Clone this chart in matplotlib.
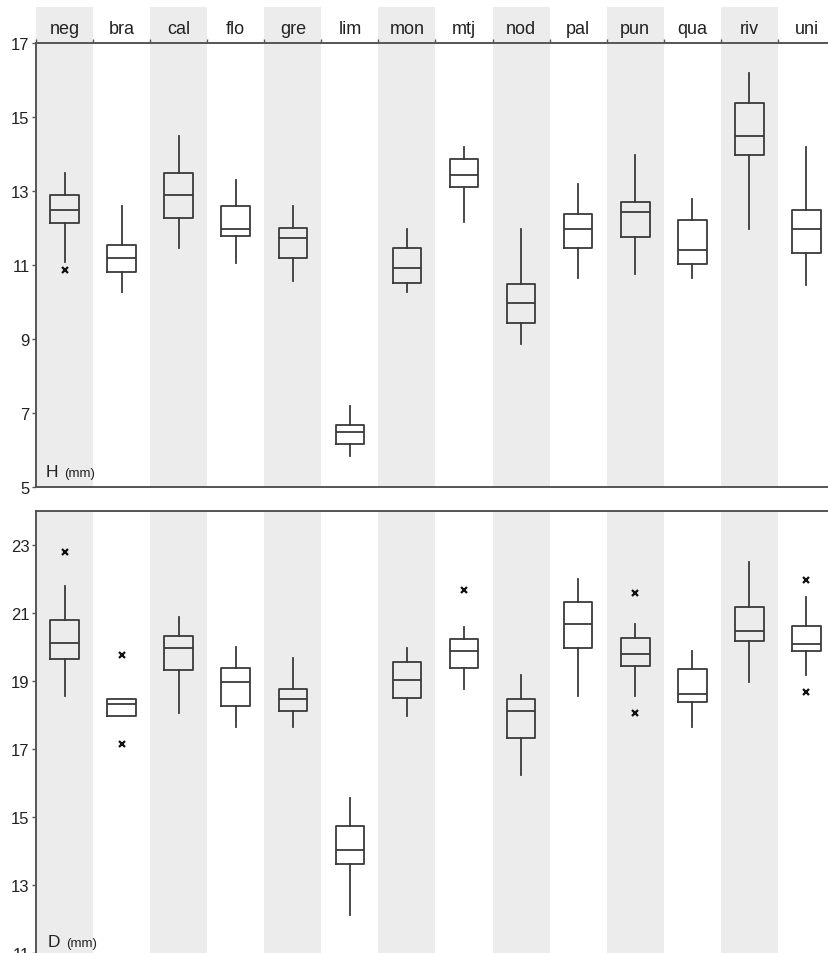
import matplotlib
matplotlib.use("Agg")
import matplotlib.pyplot as plt
import numpy as np

plt.rcParams['font.family'] = ['Liberation Sans', 'DejaVu Sans']

categories = ['neg', 'bra', 'cal', 'flo', 'gre', 'lim', 'mon', 'mtj', 'nod', 'pal', 'pun', 'qua', 'riv', 'uni']

# H (mm)
H_whislo = [11.07, 10.26, 11.46, 11.06, 10.57, 5.85, 10.26, 12.16, 8.86, 10.66, 10.77, 10.66, 11.96, 10.46]
H_q1     = [12.13, 10.82, 12.28, 11.78, 11.19, 6.15, 10.51, 13.10, 9.44, 11.47, 11.75, 11.02, 13.97, 11.32]
H_med    = [12.49, 11.18, 12.88, 11.97, 11.73, 6.48, 10.92, 13.42, 9.97, 11.96, 12.43, 11.41, 14.48, 11.96]
H_q3     = [12.90, 11.53, 13.49, 12.59, 12.00, 6.67, 11.45, 13.86, 10.48, 12.38, 12.70, 12.22, 15.38, 12.48]
H_whishi = [13.49, 12.59, 14.49, 13.30, 12.59, 7.18, 11.98, 14.18, 11.98, 13.18, 13.98, 12.78, 16.19, 14.18]
H_fliers = [[10.87], [], [], [], [], [], [], [], [], [], [], [], [], []]

# D (mm)
D_whislo = [18.56, 17.96, 18.06, 17.66, 17.64, 12.12, 17.96, 18.76, 16.24, 18.57, 18.57, 17.66, 18.96, 19.17]
D_q1     = [19.65, 17.96, 19.31, 18.26, 18.13, 13.63, 18.49, 19.39, 17.32, 19.97, 19.45, 18.38, 20.19, 19.87]
D_med    = [20.13, 18.33, 19.98, 18.96, 18.46, 14.03, 19.02, 19.87, 18.11, 20.69, 19.78, 18.61, 20.48, 20.08]
D_q3     = [20.79, 18.46, 20.32, 19.37, 18.76, 14.74, 19.55, 20.23, 18.47, 21.33, 20.26, 19.35, 21.18, 20.63]
D_whishi = [21.79, 18.46, 20.89, 19.99, 19.69, 15.55, 19.98, 20.58, 19.18, 21.99, 20.69, 19.87, 22.49, 21.48]
D_fliers = [[22.78], [19.77, 17.15], [], [], [], [], [], [21.69], [], [], [21.59, 18.07], [], [], [21.98, 18.67]]

H_ticks = [5, 7, 9, 11, 13, 15, 17]
D_ticks = [11, 13, 15, 17, 19, 21, 23]

W, Hh = 829, 954
fig = plt.figure(figsize=(W / 100, Hh / 100), dpi=100)

left = 36 / W
width = (835 - 36) / W
ax1 = fig.add_axes([left, 1 - 488 / Hh, width, (488 - 44) / Hh])
ax2 = fig.add_axes([left, 1 - 954 / Hh, width, (954 - 512) / Hh])

line_col = '#3a3a3a'
spine_col = '#555555'
stripe_col = '#ececec'
text_col = '#222222'
n = len(categories)
x = np.arange(n)


def make_stats(wlo, q1, med, q3, whi, fl):
    return [dict(whislo=a, q1=b, med=c, q3=d, whishi=e, fliers=f)
            for a, b, c, d, e, f in zip(wlo, q1, med, q3, whi, fl)]


def draw_panel(ax, stats, ylim, ticks, stripe_top):
    ax.set_xlim(-0.5, n - 0.5)
    ax.set_ylim(*ylim)
    for i in range(0, n, 2):
        ax.bar(i, stripe_top - ylim[0], bottom=ylim[0], width=1.0, color=stripe_col,
               edgecolor='none', zorder=0, clip_on=False)
    lp = dict(color=line_col, linewidth=1.3)
    ax.bxp(stats, positions=x, widths=0.5, showcaps=False,
           boxprops=lp, whiskerprops=lp, medianprops=lp,
           flierprops=dict(marker='x', markersize=4, markeredgewidth=1.6,
                           markeredgecolor='#111111', linestyle='none'),
           manage_ticks=False, zorder=3)
    ax.set_yticks(ticks)
    ax.set_yticklabels([str(t) for t in ticks])
    ax.tick_params(axis='y', direction='out', length=3, width=1.0, color=spine_col,
                   labelsize=12, pad=1.5, labelcolor=text_col)
    ax.set_facecolor('none')
    for s in ['left', 'top', 'bottom']:
        ax.spines[s].set_color(spine_col)
        ax.spines[s].set_linewidth(1.4)
    ax.spines['right'].set_visible(False)


draw_panel(ax1, make_stats(H_whislo, H_q1, H_med, H_q3, H_whishi, H_fliers),
           (5, 17), H_ticks, 17 + 36 / 37)
draw_panel(ax2, make_stats(D_whislo, D_q1, D_med, D_q3, D_whishi, D_fliers),
           (11, 24), D_ticks, 24)
ax2.spines['bottom'].set_visible(False)

# top boundary ticks and category labels
ax1.set_xticks(np.arange(n + 1) - 0.5)
ax1.tick_params(axis='x', top=True, bottom=False, labeltop=False, labelbottom=False,
                direction='out', length=3, width=1.0, color=spine_col)
for i, c in enumerate(categories):
    ax1.text(i, 17.27, c, ha='center', va='baseline', fontsize=13, color=text_col,
             clip_on=False)
ax2.set_xticks([])

# panel labels
ax1.text(-0.325, 5.30, 'H', fontsize=12.5, ha='left', va='baseline', color=text_col)
ax1.text(-0.01, 5.30, '(mm)', fontsize=9.5, ha='left', va='baseline', color=text_col)
ax2.text(-0.29, 11.21, 'D', fontsize=12.5, ha='left', va='baseline', color=text_col)
ax2.text(0.025, 11.21, '(mm)', fontsize=9.5, ha='left', va='baseline', color=text_col)

fig.savefig('out.png', dpi=100)
